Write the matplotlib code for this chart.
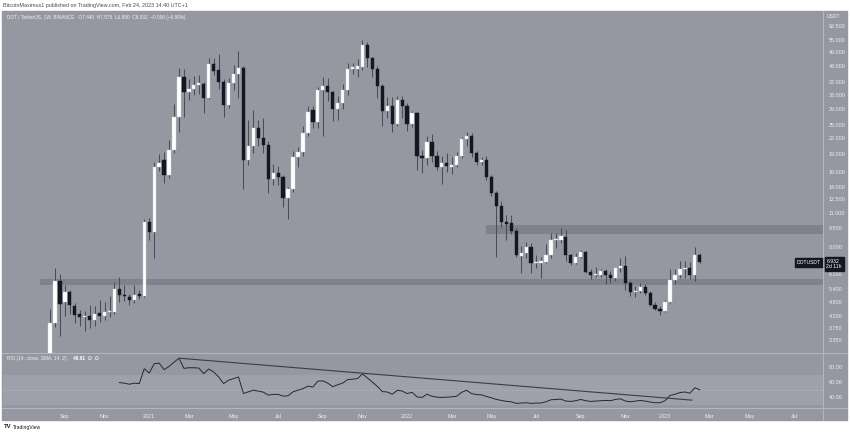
import matplotlib
matplotlib.use("Agg")
import matplotlib.pyplot as plt
from matplotlib.patches import Rectangle
from matplotlib.ticker import NullLocator
import numpy as np
import pandas as pd

# ---------------- data (weekly DOT/USDT) ----------------
start_week = "2020-08-17"
opens = [2.90, 3.95, 5.80, 4.78, 5.25, 4.60, 4.27, 4.15, 4.20, 4.07,
         4.33, 4.20, 4.37, 4.38, 5.42, 5.12, 5.03, 4.86, 5.10, 5.08,
         10.10, 9.20, 16.90, 17.90, 15.60, 19.70, 26.90, 39.00, 33.90, 34.80,
         36.20, 36.40, 32.00, 44.00, 41.50, 37.20, 29.90, 36.80, 40.00, 42.30,
         17.90, 20.50, 24.10, 22.00, 20.70, 15.00, 15.90, 15.30, 12.60, 13.70,
         18.40, 19.40, 23.00, 28.50, 25.70, 34.40, 35.90, 33.90, 28.90, 30.50,
         34.40, 42.00, 42.00, 42.70, 52.20, 46.60, 42.00, 35.90, 28.40, 29.70,
         25.10, 31.40, 29.70, 25.10, 27.70, 18.70, 18.30, 21.30, 18.60, 16.90,
         17.40, 16.90, 17.20, 18.60, 21.80, 22.40, 19.10, 17.70, 18.00, 15.30,
         13.20, 11.70, 10.10, 10.00, 9.30, 7.35, 7.55, 8.00, 6.90, 6.90,
         6.95, 7.40, 8.50, 8.55, 8.80, 7.40, 6.90, 7.30, 7.60, 6.35,
         6.16, 6.16, 6.40, 6.16, 5.97, 6.55, 6.70, 5.70, 5.25, 5.30,
         5.50, 5.20, 4.66, 4.50, 4.40, 4.80, 5.90, 6.16, 6.50, 6.55,
         6.16, 7.44]
highs = [4.50, 6.60, 6.20, 5.60, 5.35, 4.75, 4.45, 4.40, 4.65, 4.60,
         4.90, 4.80, 5.05, 5.75, 6.05, 5.60, 5.15, 5.60, 5.35, 10.40,
         10.50, 17.60, 19.00, 19.30, 21.60, 30.20, 42.30, 42.00, 38.30, 39.20,
         39.80, 37.00, 46.50, 46.50, 48.30, 38.30, 38.50, 43.40, 49.70, 43.00,
         26.00, 28.60, 26.00, 26.60, 21.50, 17.30, 17.00, 15.60, 14.00, 19.60,
         20.30, 24.60, 29.60, 29.80, 35.50, 39.00, 38.50, 34.30, 32.50, 36.60,
         44.40, 44.50, 46.00, 55.00, 54.00, 47.00, 43.00, 36.50, 32.30, 32.30,
         32.60, 32.60, 30.50, 28.40, 28.00, 19.80, 22.50, 22.80, 19.60, 18.60,
         19.20, 18.50, 19.40, 22.20, 23.40, 23.00, 19.60, 18.50, 18.70, 15.60,
         13.50, 12.30, 10.80, 10.80, 9.50, 8.10, 8.40, 8.30, 7.40, 7.30,
         8.20, 9.10, 9.10, 9.50, 9.35, 7.50, 7.55, 7.75, 7.70, 6.50,
         6.65, 6.50, 6.50, 6.40, 6.60, 7.20, 7.35, 5.85, 5.55, 5.70,
         5.65, 5.30, 4.80, 4.60, 4.90, 6.50, 6.50, 7.00, 7.00, 6.95,
         7.97, 7.575]
lows = [2.80, 3.80, 3.50, 4.20, 4.30, 3.95, 3.85, 3.65, 3.77, 3.85,
        3.97, 4.05, 4.15, 4.30, 4.80, 4.85, 4.65, 4.75, 4.95, 5.00,
        8.50, 7.20, 16.20, 14.50, 15.20, 19.20, 23.30, 26.80, 31.50, 33.00,
        33.30, 27.80, 31.60, 39.50, 34.80, 26.80, 29.20, 34.60, 32.10, 13.70,
        17.20, 19.20, 20.40, 19.10, 13.20, 14.20, 14.30, 11.60, 10.40, 13.30,
        16.90, 18.70, 22.50, 24.30, 24.20, 22.40, 31.20, 25.80, 26.00, 29.00,
        33.00, 40.00, 38.80, 41.50, 42.70, 38.80, 32.00, 24.60, 26.50, 23.40,
        24.70, 26.50, 23.50, 24.40, 16.30, 15.90, 17.20, 17.70, 16.40, 14.40,
        16.00, 15.80, 16.90, 18.30, 20.50, 18.50, 17.20, 17.20, 14.90, 12.80,
        7.30, 9.60, 8.55, 9.00, 7.30, 6.30, 7.25, 6.30, 6.60, 6.00,
        6.90, 7.20, 7.90, 8.30, 7.05, 6.75, 6.80, 7.20, 6.25, 5.95,
        6.05, 6.05, 5.65, 5.70, 5.85, 6.35, 5.35, 5.05, 5.00, 5.20,
        5.10, 4.60, 4.45, 4.25, 4.35, 4.75, 5.65, 6.00, 6.00, 5.95,
        5.80, 6.880]
closes = [3.95, 5.80, 4.70, 5.25, 4.64, 4.25, 4.15, 4.20, 4.07, 4.30,
          4.20, 4.37, 4.40, 5.42, 5.10, 5.05, 4.86, 5.10, 5.08, 10.10,
          9.20, 16.90, 17.50, 15.60, 19.70, 26.90, 39.00, 33.90, 34.80, 36.20,
          36.40, 32.00, 44.00, 41.30, 37.30, 29.90, 36.80, 40.10, 42.30, 17.90,
          20.50, 24.10, 22.00, 20.70, 15.00, 15.90, 15.30, 12.60, 13.70, 18.40,
          19.40, 23.00, 28.00, 25.70, 34.40, 35.90, 33.90, 28.90, 30.50, 34.40,
          42.00, 42.20, 43.00, 52.20, 46.60, 42.00, 35.90, 28.40, 29.70, 25.20,
          31.40, 29.70, 25.10, 27.70, 18.70, 18.30, 21.30, 18.60, 16.90, 17.40,
          17.00, 17.20, 18.60, 21.80, 22.40, 19.10, 17.70, 18.00, 15.30, 13.20,
          11.70, 10.10, 9.90, 9.30, 7.40, 7.55, 7.98, 6.90, 6.95, 7.00,
          7.40, 8.55, 8.60, 8.85, 7.40, 6.90, 7.30, 7.60, 6.35, 6.16,
          6.17, 6.40, 6.16, 5.97, 6.55, 6.70, 5.70, 5.25, 5.30, 5.50,
          5.20, 4.66, 4.50, 4.40, 4.80, 5.90, 6.16, 6.50, 6.55, 6.16,
          7.44, 6.932]

rsi_first_bar = 14
rsi = [59.6, 58.7, 57.3, 58.7, 58.2, 78.2, 72.4, 84.9, 85.8, 76.9,
       81.3, 87.0, 92.4, 78.7, 79.5, 79.5, 79.1, 71.6, 77.8, 73.8,
       67.1, 58.2, 62.7, 64.9, 67.1, 44.9, 47.1, 49.3, 48.0, 46.7,
       42.7, 43.6, 43.6, 41.3, 41.8, 47.1, 49.3,
       51.3, 54.8, 53.5, 61.4, 61.9, 58.8, 54.0, 56.6, 58.8, 63.6,
       64.1, 65.0, 71.1, 65.8, 60.1, 54.4, 47.4, 46.9, 43.8, 49.1,
       48.2, 44.7, 46.5, 40.3, 39.5, 43.8, 41.2, 39.9, 39.5, 39.9,
       40.3, 41.2, 46.5, 49.1, 44.7, 43.4, 43.0, 40.8, 39.0, 36.8,
       35.5, 34.2, 33.7, 31.5, 32.0, 32.4, 31.5, 32.0, 32.0, 33.7,
       36.4, 36.8, 37.3, 34.6, 34.2, 35.1, 36.8, 35.1, 34.2, 34.6,
       35.1, 35.5, 35.1, 36.8, 37.7, 34.6, 33.7, 34.6, 35.5, 34.6,
       33.3, 32.4, 32.4, 35.1, 42.1, 43.8, 46.0, 46.9, 45.2, 52.6,
       49.81]

# RSI trend line (bar, value) end points
rsi_trend_bars = [26, 129.4]
rsi_trend_vals = [92.4, 35.9]

# horizontal zones (low, high, first bar)
support_zone = (5.59, 5.95, -2.0)
resist_zone = (9.05, 9.78, 87.9)

price_ticks = [3.35, 3.75, 4.2, 4.8, 5.4, 6.2, 8.0, 9.5, 11.0, 12.5, 14.0, 16.0,
               19.0, 22.0, 25.0, 29.0, 33.0, 37.0, 43.0, 49.0, 55.0, 62.5]
rsi_ticks = [40, 60, 80]
month_ticks = ["2020-09", "2020-11", "2021-01", "2021-03", "2021-05", "2021-07",
               "2021-09", "2021-11", "2022-01", "2022-03", "2022-05", "2022-07",
               "2022-09", "2022-11", "2023-01", "2023-03", "2023-05", "2023-07"]
month_labels = ["Sep", "Nov", "2021", "Mar", "May", "Jul", "Sep", "Nov", "2022",
                "Mar", "May", "Jul", "Sep", "Nov", "2023", "Mar", "May", "Jul"]

# ---------------- styling ----------------
W, H = 850, 434
BG = "#9598a1"
ZONE = "#7f828b"
BAND = "#9ea1a9"
UP = "#ffffff"
DN = "#131722"
WICK = "#4a4d57"
TXT = "#eef0f4"
SEP = "#b9bcc4"
FONT = ["Liberation Sans", "DejaVu Sans"]
plt.rcParams["font.family"] = FONT

fig = plt.figure(figsize=(W / 100, H / 100), dpi=100)
fig.patch.set_facecolor("white")


def box(x0, y0, x1, y1):
    return [x0 / W, 1 - y1 / H, (x1 - x0) / W, (y1 - y0) / H]


bgrect = Rectangle((2 / W, 1 - 420 / H), 845 / W, 409 / H,
                   transform=fig.transFigure, color=BG, zorder=-10)
fig.patches.append(bgrect)

ax = fig.add_axes(box(3, 11, 823, 352.5))
rax = fig.add_axes(box(3, 353.5, 823, 408))
for a in (ax, rax):
    a.set_facecolor(BG)
    a.set_zorder(1)
    for s in a.spines.values():
        s.set_visible(False)

n = len(closes)
x = np.arange(n)
o = np.array(opens); c = np.array(closes); h = np.array(highs); l = np.array(lows)
up = c >= o

xlim = (-9.48, 155.85)
ax.set_yscale("log")
ax.set_xlim(*xlim)
ax.set_ylim(2.995, 71.9)

# zones
for lo, hi, b0 in (support_zone, resist_zone):
    ax.axhspan(lo, hi, xmin=(b0 - xlim[0]) / (xlim[1] - xlim[0]), xmax=1,
               color=ZONE, lw=0, zorder=1)

# candles
ax.vlines(x, l, h, color=WICK, lw=0.75, zorder=2)
bw = 0.66
bottoms = np.minimum(o, c)
heights = np.maximum(np.abs(c - o), bottoms * 0.012)
ax.bar(x[up], heights[up], bottom=bottoms[up], width=bw, color=UP,
       edgecolor="#d0d2d8", lw=0.3, zorder=3)
ax.bar(x[~up], heights[~up], bottom=bottoms[~up], width=bw, color=DN,
       edgecolor=DN, lw=0.3, zorder=3)

ax.yaxis.tick_right()
ax.set_yticks(price_ticks)
ax.set_yticklabels([f"{v:.3f}" for v in price_ticks])
ax.yaxis.set_minor_locator(NullLocator())
ax.tick_params(axis="y", length=0, pad=4, labelsize=3.9, labelcolor=TXT)
ax.set_xticks([])

# last price labels
last = closes[-1]
ax.annotate(f"{last:.3f}\n2d 11h", xy=(1.0, last), xycoords=("axes fraction", "data"),
            xytext=(2.5, 2.6), textcoords="offset points", va="top", ha="left",
            fontsize=3.7, color="white", linespacing=1.15,
            bbox=dict(boxstyle="square,pad=0.35", fc=DN, ec=DN), zorder=6,
            annotation_clip=False)
ax.annotate("DOTUSDT", xy=(1.0, last), xycoords=("axes fraction", "data"),
            xytext=(-1.5, 0), textcoords="offset points", va="center", ha="right",
            fontsize=3.6, color="white",
            bbox=dict(boxstyle="square,pad=0.35", fc=DN, ec=DN), zorder=6,
            annotation_clip=False)

# RSI pane
rax.set_xlim(*xlim)
rax.set_ylim(25.3, 98.7)
rax.axhspan(30, 70, color=BAND, lw=0, zorder=0)
rax.axhline(50, color="#b6b9c1", lw=0.5, ls=(0, (3, 3)), zorder=1)
rx = np.arange(rsi_first_bar, rsi_first_bar + len(rsi))
rax.plot(rx, rsi, color="#25282f", lw=0.7, zorder=3)
rax.plot(rsi_trend_bars, rsi_trend_vals, color="#3a3d46", lw=0.8, zorder=3)
rax.yaxis.tick_right()
rax.set_yticks(rsi_ticks)
rax.set_yticklabels([f"{v:.2f}" for v in rsi_ticks])
rax.tick_params(axis="y", length=0, pad=4, labelsize=3.9, labelcolor=TXT)

# time axis
t0 = pd.Timestamp(start_week)
tick_pos = []
for m in month_ticks:
    d = pd.Timestamp(m + "-01")
    d = d + pd.Timedelta(days=(7 - d.weekday()) % 7)
    tick_pos.append((d - t0).days / 7)
rax.set_xticks(tick_pos)
rax.set_xticklabels(month_labels)
rax.tick_params(axis="x", length=0, pad=4.5, labelsize=3.9, labelcolor=TXT)

# separators
for yy in (352.8, 408.2):
    fig.add_artist(plt.Line2D([2 / W, 847 / W], [1 - yy / H] * 2, color=SEP, lw=0.6,
                              transform=fig.transFigure, zorder=5))
fig.add_artist(plt.Line2D([823.3 / W] * 2, [1 - 11 / H, 1 - 420 / H], color=SEP,
                          lw=0.6, transform=fig.transFigure, zorder=5))

# texts
fig.text(3 / W, 1 - 5 / H, "BitcoinMaximus1 published on TradingView.com, Feb 24, 2023 14:40 UTC+1",
         fontsize=3.9, color="#4a4a4a", va="center", ha="left")
fig.text(7 / W, 1 - 17.5 / H,
         "DOT / TetherUS, 1W, BINANCE   O7.440  H7.575  L6.880  C6.932  \u22120.506 (\u22126.80%)",
         fontsize=3.4, color=TXT, va="center", ha="left", zorder=6)
fig.text(827 / W, 1 - 16 / H, "USDT", fontsize=3.6, color=TXT, va="center", ha="left",
         zorder=6)
fig.text(7 / W, 1 - 358.5 / H, "RSI (14, close, SMA, 14, 2)", fontsize=3.5, color=TXT,
         va="center", ha="left", zorder=6)
fig.text(73 / W, 1 - 358.5 / H, "49.81  \u2205  \u2205", fontsize=3.4, color="white",
         va="center", ha="left", fontweight="bold", zorder=6)
fig.text(4 / W, 1 - 427 / H, "TV", fontsize=4.2, color="#131722", va="center", ha="left",
         fontweight="bold")
fig.text(13 / W, 1 - 427 / H, "TradingView", fontsize=3.6, color="#131722", va="center",
         ha="left")

fig.savefig("out.png", dpi=100, facecolor="white")
